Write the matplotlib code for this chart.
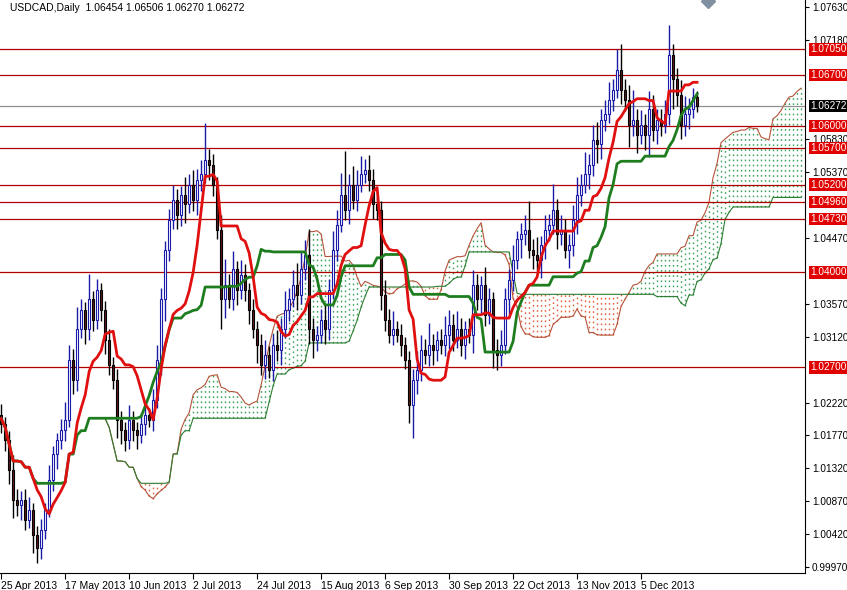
import matplotlib
matplotlib.use("Agg")
import matplotlib.pyplot as plt
import numpy as np
import pandas as pd

plt.rcParams["font.family"] = ["Liberation Sans", "DejaVu Sans"]

# closes in pips above 1.0000, one per daily bar
closes = [
    192, 171, 130, 89, 82, 89, 62, 75, 41, 23, 48, 75, 116, 151, 171, 185, 198, 280, 253, 322,
    349, 322, 363, 335, 376, 349, 308, 274, 253, 198, 185, 171, 198, 185, 178, 192, 205, 198, 226, 280,
    363, 431, 472, 499, 479, 506, 493, 520, 499, 527, 534, 554, 547, 520, 458, 363, 383, 363, 404, 376,
    397, 376, 349, 322, 301, 274, 287, 267, 301, 294, 322, 349, 363, 383, 369, 404, 424, 322, 308, 315,
    335, 322, 376, 431, 465, 506, 486, 520, 499, 520, 534, 540, 527, 493, 486, 369, 335, 315, 322, 315,
    301, 280, 219, 253, 267, 294, 287, 301, 294, 308, 301, 315, 328, 308, 322, 301, 322, 315, 383, 363,
    383, 342, 363, 294, 287, 301, 363, 390, 417, 445, 452, 458, 431, 424, 417, 438, 458, 465, 486, 452,
    458, 431, 438, 472, 506, 520, 534, 547, 581, 575, 609, 616, 636, 650, 677, 650, 636, 602, 609, 588,
    602, 588, 623, 595, 609, 602, 616, 698, 664, 643, 602, 616, 623, 640, 627,
]
# upper / lower wick lengths in pips
up_wick = [
    15, 10, 12, 20, 15, 12, 15, 18, 10, 12, 15, 10, 20, 12, 10, 15, 25, 20, 15, 30, 15, 10, 35, 12, 15,
    10, 12, 15, 10, 15, 12, 10, 20, 12, 10, 15, 12, 10, 15, 20, 15, 12, 15, 20, 15, 12, 25, 15, 20, 15,
    20, 50, 15, 15, 10, 20, 35, 15, 25, 12, 20, 15, 10, 15, 12, 15, 20, 12, 15, 20, 15, 25, 15, 20, 30,
    25, 20, 35, 15, 12, 15, 20, 15, 25, 20, 30, 60, 15, 25, 20, 25, 15, 20, 15, 10, 12, 20, 15, 25, 12,
    15, 10, 12, 15, 25, 20, 15, 30, 15, 12, 15, 25, 20, 15, 25, 15, 12, 15, 20, 15, 12, 25, 15, 10, 15,
    20, 15, 15, 20, 12, 15, 20, 40, 15, 25, 12, 20, 15, 35, 15, 20, 15, 15, 20, 25, 15, 30, 15, 20, 25,
    15, 20, 25, 15, 28, 35, 15, 20, 40, 15, 20, 15, 25, 20, 15, 15, 20, 40, 15, 15, 20, 25, 15, 12, 8,
]
dn_wick = [
    12, 15, 20, 25, 15, 20, 15, 12, 25, 20, 15, 12, 10, 15, 20, 12, 15, 10, 20, 15, 12, 20, 15, 15, 12,
    15, 20, 15, 12, 25, 20, 15, 12, 15, 20, 12, 15, 10, 15, 12, 20, 30, 15, 12, 20, 15, 25, 12, 15, 20,
    15, 12, 20, 15, 12, 40, 25, 12, 15, 20, 12, 15, 20, 12, 25, 15, 20, 12, 15, 15, 20, 12, 15, 10, 20,
    12, 15, 20, 25, 15, 12, 20, 15, 12, 15, 10, 15, 20, 12, 15, 10, 12, 15, 20, 15, 20, 15, 12, 15, 10,
    15, 12, 25, 45, 20, 15, 12, 15, 20, 15, 12, 15, 20, 15, 12, 15, 20, 12, 25, 15, 20, 15, 12, 25, 20,
    15, 12, 20, 15, 12, 25, 15, 12, 20, 15, 25, 20, 15, 12, 20, 15, 12, 25, 15, 20, 15, 12, 20, 15, 25,
    20, 15, 12, 15, 12, 20, 15, 30, 15, 25, 12, 20, 30, 15, 20, 15, 12, 15, 40, 15, 20, 15, 20, 12, 8,
]
first_open = 205

date_labels = ["25 Apr 2013", "17 May 2013", "10 Jun 2013", "2 Jul 2013", "24 Jul 2013",
               "15 Aug 2013", "6 Sep 2013", "30 Sep 2013", "22 Oct 2013", "13 Nov 2013", "5 Dec 2013"]
label_step = 16

levels = [1.0705, 1.0670, 1.0600, 1.0570, 1.0520, 1.0496, 1.0473, 1.0400, 1.0270]
axis_ticks = [1.0763, 1.0718, 1.0583, 1.0537, 1.0447, 1.0357, 1.0312, 1.0222, 1.0177,
              1.0132, 1.0087, 1.0042, 0.9997]
last_price = 1.06272
title = "USDCAD,Daily  1.06454 1.06506 1.06270 1.06272"

# ── build OHLC ────────────────────────────────────────────────────────────────
c = 1 + np.array(closes) / 10000
o = np.concatenate([[1 + first_open / 10000], c[:-1]])
h = np.maximum(o, c) + np.array(up_wick) / 10000
l = np.minimum(o, c) - np.array(dn_wick) / 10000
n = len(c)
x = np.arange(n)

hs, ls = pd.Series(h), pd.Series(l)
def mid(p):
    return ((hs.rolling(p, min_periods=1).max() + ls.rolling(p, min_periods=1).min()) / 2).values
tenkan, kijun = mid(9), mid(26)
span_a = (tenkan + kijun) / 2
span_b = mid(52)
xc = x + 26

fig = plt.figure(figsize=(8.47, 5.90), dpi=100)
ax = fig.add_axes([0, 17 / 590, 805 / 847, 573 / 590])
ymin, ymax = 1.0763 - 566 / 7311, 1.0763 + 7 / 7311
ax.set_ylim(ymin, ymax)
ax.set_xlim(-0.3, 201)

# cloud
lo_c, hi_c = np.minimum(span_a, span_b), np.maximum(span_a, span_b)
bull = span_a >= span_b
ax.vlines(xc[bull], lo_c[bull], hi_c[bull], colors="#3aa35a", linestyles=(0, (1.2, 2.5)), linewidth=1)
ax.vlines(xc[~bull], lo_c[~bull], hi_c[~bull], colors="#e0603a", linestyles=(0, (1.2, 2.5)), linewidth=1)
ax.plot(xc, span_a, color="#b5533a", lw=0.8)
ax.plot(xc, span_b, color="#2e7d32", lw=0.8)

for lv in levels:
    ax.axhline(lv, color="#b00000", lw=0.9)
ax.axhline(last_price, color="#909090", lw=0.9)

# candles
up = c >= o
ax.vlines(x[up], l[up], h[up], color="#1a1aa8", lw=1)
ax.vlines(x[~up], l[~up], h[~up], color="black", lw=1)
ax.bar(x[up], (c - o)[up], bottom=o[up], width=0.6, color="white", edgecolor="#1a1aa8", lw=0.8, zorder=3)
ax.bar(x[~up], (o - c)[~up], bottom=c[~up], width=0.6, color="#5c1a1a", edgecolor="black", lw=0.8, zorder=3)

ax.plot(x, kijun, color="#1e7d1e", lw=2, zorder=4)
ax.plot(x, tenkan, color="#e01010", lw=2, zorder=4)

# axes styling
for s in ["top", "left"]:
    ax.spines[s].set_visible(False)
ax.yaxis.tick_right()
ax.set_yticks(axis_ticks)
ax.set_yticklabels([f"{v:.5f}" for v in axis_ticks], fontsize=7.2)
ax.tick_params(axis="y", length=3, pad=2)
ax.set_xticks(np.arange(len(date_labels)) * label_step)
ax.set_xticklabels(date_labels, fontsize=7.5, ha="left")
ax.tick_params(axis="x", length=4, pad=2)
for lv in levels:
    ax.text(1.006, lv, f"{lv:.5f}", transform=ax.get_yaxis_transform(), fontsize=7.2,
            color="white", va="center", ha="left",
            bbox=dict(boxstyle="square,pad=0.12", fc="#e00000", ec="none"))
ax.text(1.006, last_price, f"{last_price:.5f}", transform=ax.get_yaxis_transform(), fontsize=7.2,
        color="white", va="center", ha="left",
        bbox=dict(boxstyle="square,pad=0.12", fc="black", ec="none"))

ax.text(0.012, 0.995, title, transform=ax.transAxes, fontsize=7.5, va="top", ha="left")
ax.plot([708 / 805], [0.998], marker="D", color="#8090a0", ms=7, transform=ax.transAxes, clip_on=False)

fig.savefig("out.png", dpi=100)
